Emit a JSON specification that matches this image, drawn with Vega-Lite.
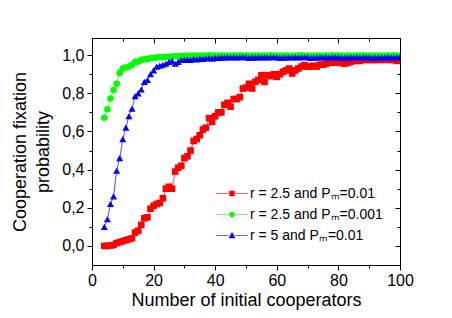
{
  "$schema": "https://vega.github.io/schema/vega-lite/v6.json",
  "width": 308,
  "height": 227,
  "autosize": "none",
  "padding": {"left": 92, "top": 38, "right": 52, "bottom": 53},
  "background": "white",
  "config": {
    "font": "Liberation Sans",
    "view": {"stroke": "black", "strokeWidth": 1},
    "axis": {
      "grid": false,
      "domainColor": "black",
      "domainWidth": 1,
      "tickColor": "black",
      "tickWidth": 1,
      "labelColor": "black",
      "titleColor": "black",
      "labelFont": "Liberation Sans",
      "titleFont": "Liberation Sans",
      "labelFontSize": 16,
      "titleFontSize": 18,
      "titleFontWeight": "normal",
      "labelOverlap": false,
      "labelFlush": false
    }
  },
  "data": {
    "values": [
      {"x":4,"p":0.000,"s":"A"},{"x":5,"p":0.000,"s":"A"},{"x":6,"p":0.002,"s":"A"},{"x":7,"p":0.005,"s":"A"},{"x":8,"p":0.015,"s":"A"},{"x":9,"p":0.020,"s":"A"},{"x":10,"p":0.025,"s":"A"},{"x":11,"p":0.030,"s":"A"},{"x":12,"p":0.035,"s":"A"},{"x":13,"p":0.040,"s":"A"},{"x":14,"p":0.070,"s":"A"},{"x":15,"p":0.080,"s":"A"},{"x":16,"p":0.110,"s":"A"},{"x":17,"p":0.145,"s":"A"},{"x":18,"p":0.150,"s":"A"},{"x":19,"p":0.195,"s":"A"},{"x":20,"p":0.210,"s":"A"},{"x":21,"p":0.220,"s":"A"},{"x":22,"p":0.225,"s":"A"},{"x":23,"p":0.250,"s":"A"},{"x":24,"p":0.300,"s":"A"},{"x":25,"p":0.310,"s":"A"},{"x":26,"p":0.300,"s":"A"},{"x":27,"p":0.390,"s":"A"},{"x":28,"p":0.410,"s":"A"},{"x":29,"p":0.420,"s":"A"},{"x":30,"p":0.460,"s":"A"},{"x":31,"p":0.470,"s":"A"},{"x":32,"p":0.500,"s":"A"},{"x":33,"p":0.550,"s":"A"},{"x":34,"p":0.560,"s":"A"},{"x":35,"p":0.580,"s":"A"},{"x":36,"p":0.610,"s":"A"},{"x":37,"p":0.620,"s":"A"},{"x":38,"p":0.670,"s":"A"},{"x":39,"p":0.650,"s":"A"},{"x":40,"p":0.680,"s":"A"},{"x":41,"p":0.700,"s":"A"},{"x":42,"p":0.700,"s":"A"},{"x":43,"p":0.740,"s":"A"},{"x":44,"p":0.750,"s":"A"},{"x":45,"p":0.730,"s":"A"},{"x":46,"p":0.770,"s":"A"},{"x":47,"p":0.770,"s":"A"},{"x":48,"p":0.780,"s":"A"},{"x":49,"p":0.825,"s":"A"},{"x":50,"p":0.830,"s":"A"},{"x":51,"p":0.850,"s":"A"},{"x":52,"p":0.825,"s":"A"},{"x":53,"p":0.860,"s":"A"},{"x":54,"p":0.870,"s":"A"},{"x":55,"p":0.895,"s":"A"},{"x":56,"p":0.860,"s":"A"},{"x":57,"p":0.895,"s":"A"},{"x":58,"p":0.890,"s":"A"},{"x":59,"p":0.900,"s":"A"},{"x":60,"p":0.886,"s":"A"},{"x":61,"p":0.900,"s":"A"},{"x":62,"p":0.913,"s":"A"},{"x":63,"p":0.920,"s":"A"},{"x":64,"p":0.930,"s":"A"},{"x":65,"p":0.904,"s":"A"},{"x":66,"p":0.920,"s":"A"},{"x":67,"p":0.930,"s":"A"},{"x":68,"p":0.940,"s":"A"},{"x":69,"p":0.948,"s":"A"},{"x":70,"p":0.940,"s":"A"},{"x":71,"p":0.940,"s":"A"},{"x":72,"p":0.945,"s":"A"},{"x":73,"p":0.940,"s":"A"},{"x":74,"p":0.950,"s":"A"},{"x":75,"p":0.950,"s":"A"},{"x":76,"p":0.955,"s":"A"},{"x":77,"p":0.960,"s":"A"},{"x":78,"p":0.965,"s":"A"},{"x":79,"p":0.960,"s":"A"},{"x":80,"p":0.965,"s":"A"},{"x":81,"p":0.960,"s":"A"},{"x":82,"p":0.955,"s":"A"},{"x":83,"p":0.960,"s":"A"},{"x":84,"p":0.965,"s":"A"},{"x":85,"p":0.970,"s":"A"},{"x":86,"p":0.970,"s":"A"},{"x":87,"p":0.970,"s":"A"},{"x":88,"p":0.977,"s":"A"},{"x":89,"p":0.975,"s":"A"},{"x":90,"p":0.975,"s":"A"},{"x":91,"p":0.975,"s":"A"},{"x":92,"p":0.975,"s":"A"},{"x":93,"p":0.975,"s":"A"},{"x":94,"p":0.977,"s":"A"},{"x":95,"p":0.975,"s":"A"},{"x":96,"p":0.978,"s":"A"},{"x":97,"p":0.975,"s":"A"},{"x":98,"p":0.975,"s":"A"},{"x":99,"p":0.970,"s":"A"},{"x":100,"p":0.975,"s":"A"},
      {"x":4,"p":0.672,"s":"B"},{"x":5,"p":0.716,"s":"B"},{"x":6,"p":0.773,"s":"B"},{"x":7,"p":0.817,"s":"B"},{"x":8,"p":0.850,"s":"B"},{"x":9,"p":0.907,"s":"B"},{"x":10,"p":0.930,"s":"B"},{"x":11,"p":0.935,"s":"B"},{"x":12,"p":0.940,"s":"B"},{"x":13,"p":0.950,"s":"B"},{"x":14,"p":0.965,"s":"B"},{"x":15,"p":0.965,"s":"B"},{"x":16,"p":0.975,"s":"B"},{"x":17,"p":0.978,"s":"B"},{"x":18,"p":0.980,"s":"B"},{"x":19,"p":0.985,"s":"B"},{"x":20,"p":0.985,"s":"B"},{"x":21,"p":0.988,"s":"B"},{"x":22,"p":0.990,"s":"B"},{"x":23,"p":0.990,"s":"B"},{"x":24,"p":0.992,"s":"B"},{"x":25,"p":0.990,"s":"B"},{"x":26,"p":0.993,"s":"B"},{"x":27,"p":0.994,"s":"B"},{"x":28,"p":0.993,"s":"B"},{"x":29,"p":0.995,"s":"B"},{"x":30,"p":0.996,"s":"B"},{"x":31,"p":0.996,"s":"B"},{"x":32,"p":0.997,"s":"B"},{"x":33,"p":0.998,"s":"B"},{"x":34,"p":0.996,"s":"B"},{"x":35,"p":0.997,"s":"B"},{"x":36,"p":0.998,"s":"B"},{"x":37,"p":0.997,"s":"B"},{"x":38,"p":0.999,"s":"B"},{"x":39,"p":0.997,"s":"B"},{"x":40,"p":0.998,"s":"B"},{"x":41,"p":0.996,"s":"B"},{"x":42,"p":0.997,"s":"B"},{"x":43,"p":0.998,"s":"B"},{"x":44,"p":0.996,"s":"B"},{"x":45,"p":0.997,"s":"B"},{"x":46,"p":0.998,"s":"B"},{"x":47,"p":0.997,"s":"B"},{"x":48,"p":0.999,"s":"B"},{"x":49,"p":0.997,"s":"B"},{"x":50,"p":0.998,"s":"B"},{"x":51,"p":0.996,"s":"B"},{"x":52,"p":0.997,"s":"B"},{"x":53,"p":0.998,"s":"B"},{"x":54,"p":0.996,"s":"B"},{"x":55,"p":0.997,"s":"B"},{"x":56,"p":0.998,"s":"B"},{"x":57,"p":0.997,"s":"B"},{"x":58,"p":0.999,"s":"B"},{"x":59,"p":0.997,"s":"B"},{"x":60,"p":0.998,"s":"B"},{"x":61,"p":0.996,"s":"B"},{"x":62,"p":0.997,"s":"B"},{"x":63,"p":0.998,"s":"B"},{"x":64,"p":0.996,"s":"B"},{"x":65,"p":0.997,"s":"B"},{"x":66,"p":0.998,"s":"B"},{"x":67,"p":0.997,"s":"B"},{"x":68,"p":0.999,"s":"B"},{"x":69,"p":0.997,"s":"B"},{"x":70,"p":0.998,"s":"B"},{"x":71,"p":0.996,"s":"B"},{"x":72,"p":0.997,"s":"B"},{"x":73,"p":0.998,"s":"B"},{"x":74,"p":0.996,"s":"B"},{"x":75,"p":0.997,"s":"B"},{"x":76,"p":0.998,"s":"B"},{"x":77,"p":0.997,"s":"B"},{"x":78,"p":0.999,"s":"B"},{"x":79,"p":0.997,"s":"B"},{"x":80,"p":0.998,"s":"B"},{"x":81,"p":0.996,"s":"B"},{"x":82,"p":0.997,"s":"B"},{"x":83,"p":0.998,"s":"B"},{"x":84,"p":0.996,"s":"B"},{"x":85,"p":0.997,"s":"B"},{"x":86,"p":0.998,"s":"B"},{"x":87,"p":0.997,"s":"B"},{"x":88,"p":0.999,"s":"B"},{"x":89,"p":0.997,"s":"B"},{"x":90,"p":0.998,"s":"B"},{"x":91,"p":0.996,"s":"B"},{"x":92,"p":0.997,"s":"B"},{"x":93,"p":0.998,"s":"B"},{"x":94,"p":0.996,"s":"B"},{"x":95,"p":0.997,"s":"B"},{"x":96,"p":0.998,"s":"B"},{"x":97,"p":0.997,"s":"B"},{"x":98,"p":0.999,"s":"B"},{"x":99,"p":0.997,"s":"B"},{"x":100,"p":0.998,"s":"B"},
      {"x":4,"p":0.100,"s":"C"},{"x":5,"p":0.140,"s":"C"},{"x":6,"p":0.220,"s":"C"},{"x":7,"p":0.260,"s":"C"},{"x":8,"p":0.394,"s":"C"},{"x":9,"p":0.460,"s":"C"},{"x":10,"p":0.560,"s":"C"},{"x":11,"p":0.620,"s":"C"},{"x":12,"p":0.680,"s":"C"},{"x":13,"p":0.720,"s":"C"},{"x":14,"p":0.785,"s":"C"},{"x":15,"p":0.800,"s":"C"},{"x":16,"p":0.820,"s":"C"},{"x":17,"p":0.860,"s":"C"},{"x":18,"p":0.870,"s":"C"},{"x":19,"p":0.900,"s":"C"},{"x":20,"p":0.920,"s":"C"},{"x":21,"p":0.940,"s":"C"},{"x":22,"p":0.945,"s":"C"},{"x":23,"p":0.950,"s":"C"},{"x":24,"p":0.955,"s":"C"},{"x":25,"p":0.965,"s":"C"},{"x":26,"p":0.970,"s":"C"},{"x":27,"p":0.955,"s":"C"},{"x":28,"p":0.965,"s":"C"},{"x":29,"p":0.975,"s":"C"},{"x":30,"p":0.975,"s":"C"},{"x":31,"p":0.978,"s":"C"},{"x":32,"p":0.975,"s":"C"},{"x":33,"p":0.980,"s":"C"},{"x":34,"p":0.978,"s":"C"},{"x":35,"p":0.982,"s":"C"},{"x":36,"p":0.980,"s":"C"},{"x":37,"p":0.983,"s":"C"},{"x":38,"p":0.985,"s":"C"},{"x":39,"p":0.982,"s":"C"},{"x":40,"p":0.986,"s":"C"},{"x":41,"p":0.986,"s":"C"},{"x":42,"p":0.988,"s":"C"},{"x":43,"p":0.987,"s":"C"},{"x":44,"p":0.989,"s":"C"},{"x":45,"p":0.988,"s":"C"},{"x":46,"p":0.990,"s":"C"},{"x":47,"p":0.988,"s":"C"},{"x":48,"p":0.989,"s":"C"},{"x":49,"p":0.990,"s":"C"},{"x":50,"p":0.989,"s":"C"},{"x":51,"p":0.986,"s":"C"},{"x":52,"p":0.988,"s":"C"},{"x":53,"p":0.987,"s":"C"},{"x":54,"p":0.989,"s":"C"},{"x":55,"p":0.988,"s":"C"},{"x":56,"p":0.990,"s":"C"},{"x":57,"p":0.988,"s":"C"},{"x":58,"p":0.989,"s":"C"},{"x":59,"p":0.990,"s":"C"},{"x":60,"p":0.989,"s":"C"},{"x":61,"p":0.986,"s":"C"},{"x":62,"p":0.988,"s":"C"},{"x":63,"p":0.987,"s":"C"},{"x":64,"p":0.989,"s":"C"},{"x":65,"p":0.988,"s":"C"},{"x":66,"p":0.990,"s":"C"},{"x":67,"p":0.988,"s":"C"},{"x":68,"p":0.989,"s":"C"},{"x":69,"p":0.990,"s":"C"},{"x":70,"p":0.989,"s":"C"},{"x":71,"p":0.986,"s":"C"},{"x":72,"p":0.988,"s":"C"},{"x":73,"p":0.987,"s":"C"},{"x":74,"p":0.989,"s":"C"},{"x":75,"p":0.988,"s":"C"},{"x":76,"p":0.990,"s":"C"},{"x":77,"p":0.988,"s":"C"},{"x":78,"p":0.989,"s":"C"},{"x":79,"p":0.990,"s":"C"},{"x":80,"p":0.989,"s":"C"},{"x":81,"p":0.986,"s":"C"},{"x":82,"p":0.988,"s":"C"},{"x":83,"p":0.987,"s":"C"},{"x":84,"p":0.989,"s":"C"},{"x":85,"p":0.988,"s":"C"},{"x":86,"p":0.990,"s":"C"},{"x":87,"p":0.988,"s":"C"},{"x":88,"p":0.989,"s":"C"},{"x":89,"p":0.990,"s":"C"},{"x":90,"p":0.989,"s":"C"},{"x":91,"p":0.986,"s":"C"},{"x":92,"p":0.988,"s":"C"},{"x":93,"p":0.987,"s":"C"},{"x":94,"p":0.989,"s":"C"},{"x":95,"p":0.988,"s":"C"},{"x":96,"p":0.990,"s":"C"},{"x":97,"p":0.988,"s":"C"},{"x":98,"p":0.989,"s":"C"},{"x":99,"p":0.990,"s":"C"},{"x":100,"p":0.989,"s":"C"}
    ]
  },
  "layer": [
    {
      "transform": [{"filter": "datum.x < 0"}],
      "mark": {"type": "point", "filled": true, "opacity": 1, "size": 64, "strokeWidth": 0.6},
      "encoding": {
        "color": {
          "field": "s", "type": "nominal",
          "scale": {"domain": ["A", "B", "C"], "range": ["#ff0000", "#00ff00", "#0000ff"]},
          "legend": {
            "orient": "none", "legendX": 133, "legendY": 148.5, "title": null, "padding": 0,
            "symbolSize": 64, "symbolStrokeWidth": 0.6, "symbolOpacity": 1,
            "labelOffset": 11, "rowPadding": 7, "labelFontSize": 14, "labelFont": "Liberation Sans", "labelColor": "black",
            "labelExpr": "datum.value === 'A' ? 'r = 2.5 and Pₘ=0.01' : datum.value === 'B' ? 'r = 2.5 and Pₘ=0.001' : 'r = 5 and Pₘ=0.01'"
          }
        },
        "stroke": {
          "field": "s", "type": "nominal",
          "scale": {"domain": ["A", "B", "C"], "range": ["#ff0000", "#00ff00", "#0000ff"]},
          "legend": {
            "orient": "none", "legendX": 133, "legendY": 148.5, "title": null, "padding": 0,
            "symbolSize": 64, "symbolStrokeWidth": 0.6, "symbolOpacity": 1,
            "labelOffset": 11, "rowPadding": 7, "labelFontSize": 14, "labelFont": "Liberation Sans", "labelColor": "black",
            "labelExpr": "datum.value === 'A' ? 'r = 2.5 and Pₘ=0.01' : datum.value === 'B' ? 'r = 2.5 and Pₘ=0.001' : 'r = 5 and Pₘ=0.01'"
          }
        },
        "shape": {
          "field": "s", "type": "nominal",
          "scale": {
            "domain": ["A", "B", "C"],
            "range": [
              "M-4,0H-0.75M0.75,0H4M-0.6,-0.6H0.6V0.6H-0.6Z",
              "M-4,0H-0.8M0.8,0H4M0.65,0A0.65,0.65 0 1 1 -0.65,0A0.65,0.65 0 1 1 0.65,0Z",
              "M-4,0H-0.85M0.85,0H4M0,-0.75L0.75,0.6H-0.75Z"
            ]
          },
          "legend": {
            "orient": "none", "legendX": 133, "legendY": 148.5, "title": null, "padding": 0,
            "symbolSize": 64, "symbolStrokeWidth": 0.6, "symbolOpacity": 1,
            "labelOffset": 11, "rowPadding": 7, "labelFontSize": 14, "labelFont": "Liberation Sans", "labelColor": "black",
            "labelExpr": "datum.value === 'A' ? 'r = 2.5 and Pₘ=0.01' : datum.value === 'B' ? 'r = 2.5 and Pₘ=0.001' : 'r = 5 and Pₘ=0.01'"
          }
        }
      }
    },
    {
      "mark": {"type": "line", "strokeWidth": 0.7, "clip": true},
      "encoding": {
        "x": {
          "field": "x", "type": "quantitative",
          "scale": {"domain": [0, 100], "nice": false, "zero": false},
          "axis": {
            "orient": "top", "labels": false, "title": null,
            "values": [0, 10, 20, 30, 40, 50, 60, 70, 80, 90, 100],
            "tickSize": {"condition": {"test": "datum.value % 20 === 0", "value": -5}, "value": -3}
          }
        },
        "y": {
          "field": "p", "type": "quantitative",
          "scale": {"domain": [-0.1, 1.09], "nice": false, "zero": false},
          "axis": {
            "orient": "right", "labels": false, "title": null,
            "values": [0, 0.1, 0.2, 0.3, 0.4, 0.5, 0.6, 0.7, 0.8, 0.9, 1.0],
            "tickSize": {"condition": {"test": "round(datum.value * 10) % 2 === 0", "value": -5}, "value": -3}
          }
        },
        "color": {"field": "s", "type": "nominal", "legend": null},
        "order": {"field": "x", "type": "quantitative"}
      }
    },
    {
      "transform": [{"filter": "datum.s === 'A'"}],
      "mark": {"type": "point", "shape": "square", "filled": true, "opacity": 1, "size": 44, "clip": true},
      "encoding": {
        "x": {
          "field": "x", "type": "quantitative",
          "axis": {
            "orient": "bottom",
            "title": "Number of initial cooperators",
            "values": [0, 10, 20, 30, 40, 50, 60, 70, 80, 90, 100],
            "labelExpr": "datum.value % 20 === 0 ? datum.label : ''",
            "tickSize": {"condition": {"test": "datum.value % 20 === 0", "value": 5}, "value": 3},
            "labelPadding": 2,
            "titlePadding": 3
          }
        },
        "y": {
          "field": "p", "type": "quantitative",
          "axis": {
            "orient": "left",
            "title": ["Cooperation fixation", "probability"],
            "titleLineHeight": 23,
            "values": [0, 0.1, 0.2, 0.3, 0.4, 0.5, 0.6, 0.7, 0.8, 0.9, 1.0],
            "labelExpr": "round(datum.value * 10) % 2 === 0 ? replace(format(datum.value, '.1f'), '.', ',') : ''",
            "tickSize": {"condition": {"test": "round(datum.value * 10) % 2 === 0", "value": 5}, "value": 3},
            "labelPadding": 3,
            "titlePadding": 9
          }
        },
        "color": {"field": "s", "type": "nominal", "legend": null}
      }
    },
    {
      "transform": [{"filter": "datum.s === 'B'"}],
      "mark": {"type": "point", "shape": "circle", "filled": true, "opacity": 1, "size": 44, "clip": true},
      "encoding": {
        "x": {"field": "x", "type": "quantitative", "axis": null},
        "y": {"field": "p", "type": "quantitative", "axis": null},
        "color": {"field": "s", "type": "nominal", "legend": null}
      }
    },
    {
      "transform": [{"filter": "datum.s === 'C'"}],
      "mark": {"type": "point", "shape": "triangle-up", "filled": true, "opacity": 1, "size": 50, "clip": true},
      "encoding": {
        "x": {"field": "x", "type": "quantitative", "axis": null},
        "y": {"field": "p", "type": "quantitative", "axis": null},
        "color": {"field": "s", "type": "nominal", "legend": null}
      }
    }
  ],
  "resolve": {"axis": {"x": "independent", "y": "independent"}}
}
